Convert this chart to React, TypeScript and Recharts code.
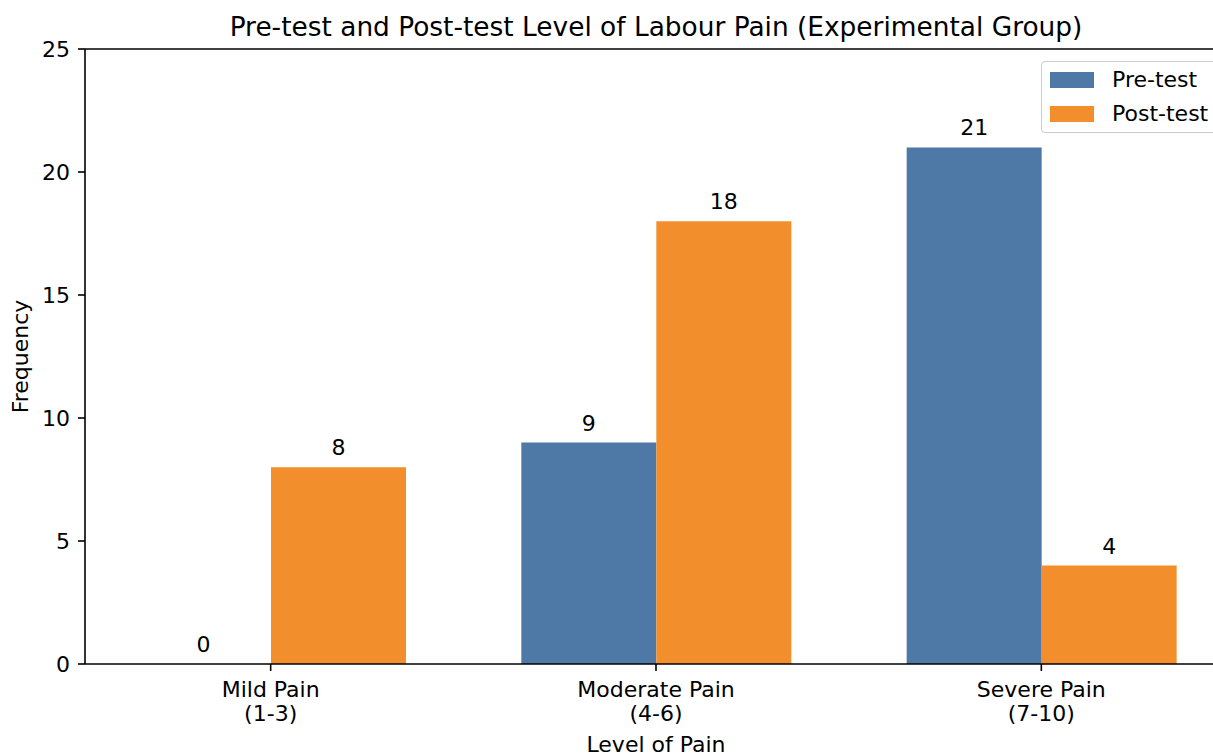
import { BarChart, Bar, XAxis, YAxis, LabelList, ReferenceLine, Label } from "recharts";

// values
const CATEGORIES = ["Mild Pain\n(1-3)", "Moderate Pain\n(4-6)", "Severe Pain\n(7-10)"];
const PRE_TEST = [0, 9, 21];
const POST_TEST = [8, 18, 4];
const Y_TICKS = [0, 5, 10, 15, 20, 25];

const PRE_COLOR = "#4e79a7";
const POST_COLOR = "#f28e2b";
const FONT = "'DejaVu Sans', sans-serif";
const FS = 22;

const data = CATEGORIES.map((c, i) => ({ level: c, pre: PRE_TEST[i], post: POST_TEST[i] }));

const SERIES = [
  { key: "pre", name: "Pre-test", color: PRE_COLOR },
  { key: "post", name: "Post-test", color: POST_COLOR },
];

function CategoryTick(props: any) {
  const { x, y, payload } = props;
  const lines = String(payload.value).split("\n");
  return (
    <text x={x} y={y} textAnchor="middle" fill="#000" fontSize={FS} fontFamily={FONT}>
      {lines.map((ln, i) => (
        <tspan key={i} x={x} dy={24}>
          {ln}
        </tspan>
      ))}
    </text>
  );
}

// legend drawn as a plain box in the upper right corner, like matplotlib's
function LegendBox() {
  return (
    <div
      style={{
        position: "absolute",
        left: 1041,
        top: 61,
        width: 184,
        height: 70,
        border: "1px solid #cccccc",
        borderRadius: 4,
        background: "rgba(255,255,255,0.8)",
        fontFamily: FONT,
        fontSize: FS,
        color: "#000",
      }}
    >
      {SERIES.map((s, i) => (
        <div key={s.key} style={{ position: "absolute", left: 8, top: 9 + i * 34, height: 18, display: "flex", alignItems: "center", whiteSpace: "nowrap" }}>
          <div style={{ width: 44, height: 16, background: s.color }} />
          <span style={{ marginLeft: 18, lineHeight: "18px" }}>{s.name}</span>
        </div>
      ))}
    </div>
  );
}

export default function App() {
  return (
    <div style={{ position: "fixed", left: 0, top: 0, width: 1213, height: 756, overflow: "hidden", background: "#fff" }}>
      <div
        style={{
          position: "absolute",
          left: 85,
          width: 1142,
          top: 14,
          textAlign: "center",
          fontFamily: FONT,
          fontSize: 26.4,
          lineHeight: "26px",
          color: "#000",
          whiteSpace: "nowrap",
        }}
      >
        Pre-test and Post-test Level of Labour Pain (Experimental Group)
      </div>
      <BarChart
        width={1250}
        height={756}
        data={data}
        margin={{ top: 49, right: 23, bottom: 0, left: 25 }}
        barGap={0}
        barSize={135}
      >
        <XAxis
          dataKey="level"
          height={92}
          padding={{ left: -7, right: -7 }}
          axisLine={{ stroke: "#000", strokeWidth: 1.6 }}
          tickLine={{ stroke: "#000", strokeWidth: 1.6 }}
          tickSize={7}
          tickMargin={2}
          tick={<CategoryTick />}
          interval={0}
        >
          <Label
            content={(p: any) => {
              const vb = p.viewBox;
              return (
                <text x={vb.x + vb.width / 2} y={752} textAnchor="middle" fontSize={FS} fontFamily={FONT} fill="#000">
                  Level of Pain
                </text>
              );
            }}
          />
        </XAxis>
        <YAxis
          width={60}
          domain={[0, 25]}
          ticks={Y_TICKS}
          axisLine={{ stroke: "#000", strokeWidth: 1.6 }}
          tickLine={{ stroke: "#000", strokeWidth: 1.6 }}
          tickSize={7}
          tickMargin={8}
          tick={{ fill: "#000", fontSize: FS, fontFamily: FONT }}
        >
          <Label
            content={(p: any) => {
              const vb = p.viewBox;
              const cy = vb.y + vb.height / 2;
              return (
                <text x={28} y={cy} transform={`rotate(-90, 28, ${cy})`} textAnchor="middle" fontSize={FS} fontFamily={FONT} fill="#000">
                  Frequency
                </text>
              );
            }}
          />
        </YAxis>
        <ReferenceLine y={25} stroke="#000" strokeWidth={1.6} ifOverflow="visible" />
        {SERIES.map((s) => (
          <Bar key={s.key} dataKey={s.key} name={s.name} fill={s.color} minPointSize={0.1} isAnimationActive={false}>
            <LabelList dataKey={s.key} position="top" offset={12} fill="#000" fontSize={FS} fontFamily={FONT} />
          </Bar>
        ))}
      </BarChart>
      <LegendBox />
    </div>
  );
}
